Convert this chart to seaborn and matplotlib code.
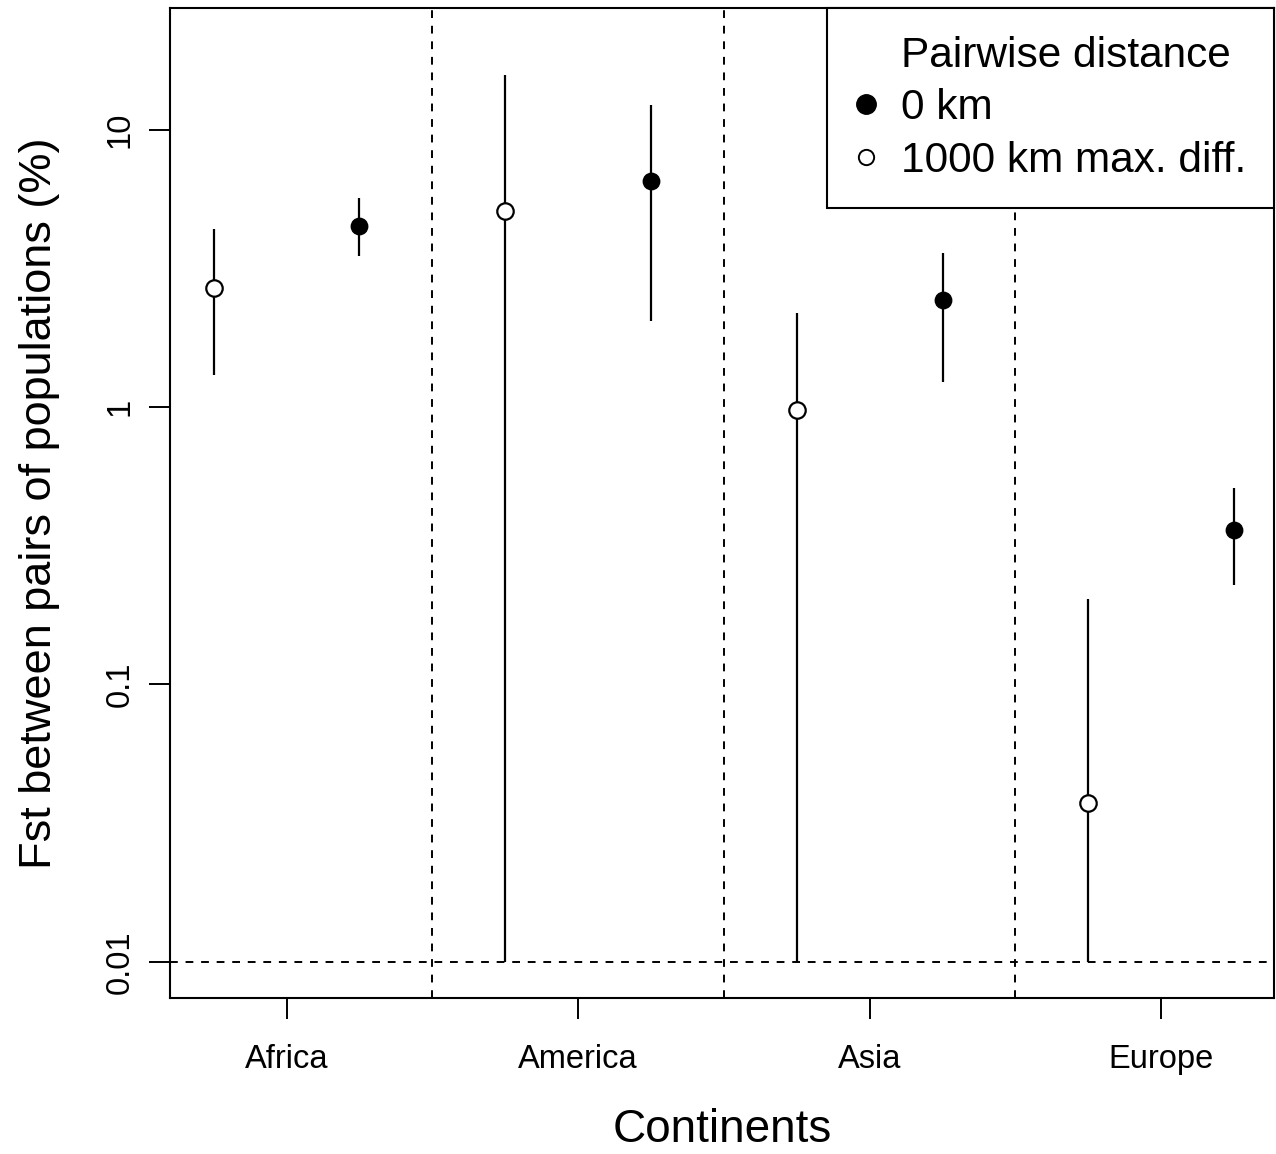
import matplotlib
matplotlib.use("Agg")
import matplotlib.pyplot as plt
import seaborn as sns
import pandas as pd
import numpy as np
from matplotlib.lines import Line2D

continents = ["Africa", "America", "Asia", "Europe"]
# 1000 km max. diff. (open circles)
far_mean = [2.69, 5.1, 0.975, 0.0375]
far_low = [1.31, 0.01, 0.01, 0.01]
far_high = [4.4, 15.8, 2.19, 0.203]
# 0 km (filled circles)
zero_mean = [4.5, 6.55, 2.44, 0.362]
zero_low = [3.5, 2.05, 1.23, 0.228]
zero_high = [5.69, 12.3, 3.6, 0.509]

sns.set_style("ticks")
plt.rcParams["font.family"] = ["Liberation Sans", "DejaVu Sans"]
for k in ["text.color", "axes.labelcolor", "xtick.color", "ytick.color", "axes.edgecolor"]:
    plt.rcParams[k] = "black"

idx = np.arange(1, len(continents) + 1)
df = pd.DataFrame({
    "x": np.concatenate([idx - 0.25, idx + 0.25]),
    "y": far_mean + zero_mean,
    "lo": far_low + zero_low,
    "hi": far_high + zero_high,
    "group": ["1000 km max. diff."] * 4 + ["0 km"] * 4,
})

fig = plt.figure(figsize=(12.76, 11.54), dpi=100)
ax = fig.add_axes([170 / 1276, 1 - 998 / 1154, 1104 / 1276, 990 / 1154])

ax.vlines(df["x"], df["lo"], df["hi"], color="black", lw=1.6, zorder=2)
far = df[df.group == "1000 km max. diff."]
zero = df[df.group == "0 km"]
sns.scatterplot(data=far, x="x", y="y", ax=ax, marker="o", s=140,
                facecolor="white", edgecolor="black", linewidth=1.6, zorder=3)
sns.scatterplot(data=zero, x="x", y="y", ax=ax, marker="o", s=140,
                color="black", edgecolor="black", linewidth=1.0, zorder=3)

ax.set_yscale("log")
ax.set_ylim(0.0074, 27.5)
ax.set_xlim(0.6, 4.387)
for xv in [1.5, 2.5, 3.5]:
    ax.axvline(xv, color="black", ls=(0, (4, 4)), lw=1.4, zorder=1)
ax.axhline(0.01, color="black", ls=(0, (4, 4)), lw=1.4, zorder=1)

ax.set_xticks(idx)
ax.set_xticklabels(continents, fontsize=23.5)
ax.set_yticks([0.01, 0.1, 1, 10])
ax.set_yticklabels(["0.01", "0.1", "1", "10"], fontsize=23.5, rotation=90, va="center")
ax.yaxis.set_minor_locator(matplotlib.ticker.NullLocator())
ax.tick_params(axis="both", length=15, width=1.4, color="black")
ax.tick_params(axis="x", pad=18)
ax.tick_params(axis="y", pad=10)
for s in ax.spines.values():
    s.set_visible(True)
    s.set_linewidth(1.5)
    s.set_color("black")

ax.set_xlabel("Continents", fontsize=33, labelpad=24)
ax.set_ylabel("Fst between pairs of populations (%)", fontsize=32.5, labelpad=32)

handles = [
    Line2D([], [], ls="none", marker=None),
    Line2D([], [], marker="o", ls="none", markersize=14, markerfacecolor="black", markeredgecolor="black"),
    Line2D([], [], marker="o", ls="none", markersize=11, markerfacecolor="white", markeredgecolor="black", markeredgewidth=1.4),
]
leg = ax.legend(handles, ["Pairwise distance", "0 km", "1000 km max. diff."],
                loc="upper right", borderaxespad=0, fontsize=30.5,
                frameon=True, fancybox=False, edgecolor="black", framealpha=1,
                handletextpad=0.55, handlelength=0.55, labelspacing=0.3,
                borderpad=0.65)
leg.get_frame().set_linewidth(1.5)

fig.savefig("out.png", dpi=100)
